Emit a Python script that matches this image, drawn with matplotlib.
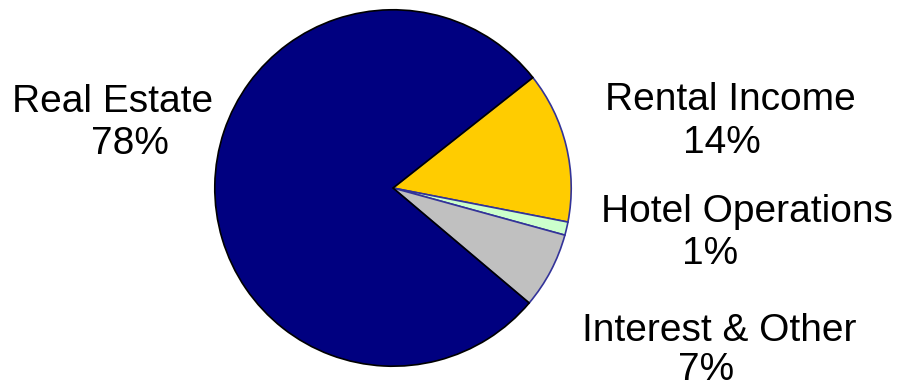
import matplotlib.pyplot as plt

# Slice data, clockwise from the upper right
labels = ['Rental Income', 'Hotel Operations', 'Interest & Other', 'Real Estate']
shares = [13.7, 1.2, 6.9, 78.2]
pct_text = ['14%', '1%', '7%', '78%']
colors = ['#FFCC00', '#CCFFCC', '#C0C0C0', '#000080']
edges = ['#333399', '#333399', '#333399', '#000000']

plt.rcParams['font.family'] = ['Liberation Sans', 'DejaVu Sans']

W, H = 903, 389
fig = plt.figure(figsize=(W / 100, H / 100), dpi=100)

cx, cy, r = 393, 188, 180
ax = fig.add_axes([(cx - r) / W, (H - cy - r) / H, 2 * r / W, 2 * r / H])
wedges, _ = ax.pie(shares, colors=colors, startangle=38.3, counterclock=False,
                   radius=1, wedgeprops=dict(linewidth=1.2))
for w, ec in zip(wedges, edges):
    w.set_edgecolor(ec)
ax.set_xlim(-1.01, 1.01)
ax.set_ylim(-1.01, 1.01)
ax.set_aspect('equal')
ax.axis('off')

# label placement in pixels: (name x, name baseline, pct x, pct baseline)
label_pos = [(730, 110, 722, 153),
             (747, 222, 710, 264),
             (719, 341, 706, 380),
             (113, 112, 130, 154)]
for name, pct, (nx, ny, px, py) in zip(labels, pct_text, label_pos):
    fig.text(nx / W, 1 - ny / H, name, ha='center', va='baseline', fontsize=28)
    fig.text(px / W, 1 - py / H, pct, ha='center', va='baseline', fontsize=28)

fig.savefig('out.png', dpi=100)
